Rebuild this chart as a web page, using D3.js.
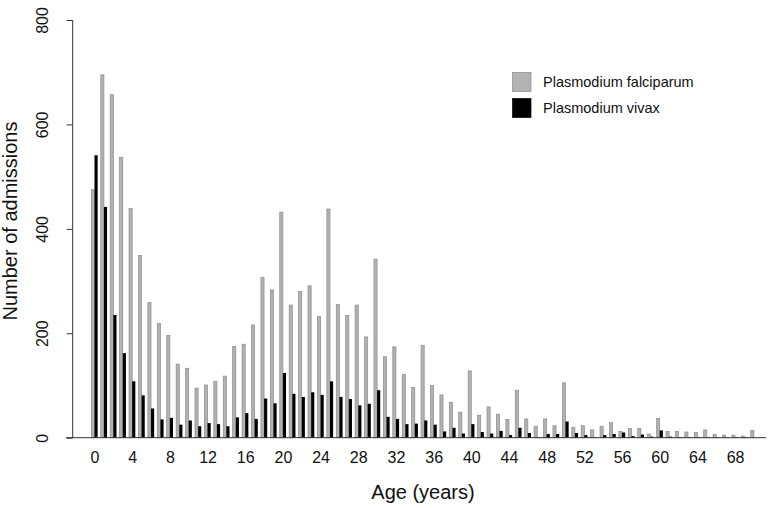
<!DOCTYPE html>
<html>
<head>
<meta charset="utf-8">
<script src="https://cdn.jsdelivr.net/npm/d3@7"></script>
<style>
  html, body { margin: 0; padding: 0; background: #fff; }
  svg { display: block; font-family: "Liberation Sans", Arial, sans-serif; }
</style>
</head>
<body>
<svg id="chart" width="778" height="508"></svg>
<script>
const ages = d3.range(0, 71);
const falciparum = [475, 695, 657, 537, 439, 349, 259, 219, 196, 141,
  133, 95, 101, 108, 118, 175, 179, 216, 307, 283,
  432, 254, 280, 291, 232, 438, 255, 234, 254, 193,
  342, 155, 174, 121, 96, 177, 100, 82, 68, 49,
  128, 43, 59, 45, 35, 91, 36, 22, 36, 23,
  105, 20, 23, 15, 22, 29, 12, 18, 18, 7,
  37, 12, 12, 11, 10, 15, 6, 5, 5, 3, 14];
const vivax = [541, 442, 235, 162, 108, 81, 56, 35, 38, 25,
  33, 22, 28, 26, 22, 39, 47, 36, 75, 66,
  124, 84, 78, 87, 82, 108, 78, 74, 62, 65,
  91, 40, 36, 26, 27, 33, 25, 12, 19, 8,
  26, 11, 8, 13, 5, 19, 9, 1, 7, 7,
  31, 9, 5, 1, 5, 7, 10, 3, 6, 2,
  14, 2, 1, 1, 1, 1, 1, 1, 1, 1, 0];
const xTickLabels = d3.range(0, 69, 4);
const yTickLabels = [0, 200, 400, 600, 800];
const seriesNames = ["Plasmodium falciparum", "Plasmodium vivax"];

const svg = d3.select("#chart");
const greyFill = "#b2b2b2", greyStroke = "#8c8c8c";

const x = d3.scaleLinear().domain([0, 70]).range([94.5, 94.5 + 9.42 * 70]);
const y = d3.scaleLinear().domain([0, 800]).range([437.7, 20]);
const bw = (x(1) - x(0)) / 3;

// bars
svg.append("g").selectAll("rect").data(ages).join("rect")
  .attr("x", d => x(d) - bw)
  .attr("width", bw)
  .attr("y", d => y(falciparum[d]))
  .attr("height", d => y(0) - y(falciparum[d]))
  .attr("fill", greyFill)
  .attr("stroke", greyStroke)
  .attr("stroke-width", 0.7);

svg.append("g").selectAll("rect").data(ages).join("rect")
  .attr("x", d => x(d))
  .attr("width", bw)
  .attr("y", d => y(vivax[d]))
  .attr("height", d => y(0) - y(vivax[d]))
  .attr("fill", "#000");

// baseline
svg.append("line")
  .attr("x1", 66).attr("x2", 766)
  .attr("y1", y(0)).attr("y2", y(0))
  .attr("stroke", "#333").attr("stroke-width", 1);

// x axis labels
const gx = svg.append("g").attr("transform", `translate(0,${y(0)})`)
  .call(d3.axisBottom(x).tickValues(xTickLabels).tickSize(0).tickPadding(9).tickFormat(d3.format("d")));
gx.select(".domain").remove();
gx.selectAll("text").attr("font-size", 16).attr("fill", "#111").attr("font-family", "Liberation Sans, Arial, sans-serif")
  .attr("dy", null).attr("y", 25);

// y axis
const gy = svg.append("g").attr("transform", "translate(72.7,0)")
  .call(d3.axisLeft(y).tickValues(yTickLabels).tickSize(6).tickFormat(d3.format("d")));
gy.select(".domain").attr("d", `M0,${y(800)}V${y(0)}`).attr("stroke", "#333");
gy.selectAll(".tick line").attr("stroke", "#333");
gy.selectAll("text")
  .attr("x", null).attr("dy", null).attr("y", null)
  .attr("transform", "translate(-24.7,0) rotate(-90)")
  .attr("text-anchor", "middle")
  .attr("font-size", 16).attr("fill", "#111").attr("font-family", "Liberation Sans, Arial, sans-serif");

// axis titles
svg.append("text")
  .attr("transform", "translate(17,221) rotate(-90)")
  .attr("text-anchor", "middle")
  .attr("font-size", 20).attr("fill", "#111")
  .text("Number of admissions");
svg.append("text")
  .attr("x", 423).attr("y", 499)
  .attr("text-anchor", "middle")
  .attr("font-size", 20).attr("fill", "#111")
  .text("Age (years)");

// legend
const legend = svg.append("g");
const legendItems = [{name: seriesNames[0], fill: greyFill, stroke: greyStroke},
                     {name: seriesNames[1], fill: "#000", stroke: "#000"}];
legendItems.forEach((it, i) => {
  const cy = 82 + i * 26;
  legend.append("rect").attr("x", 512.5).attr("y", cy - 9.5).attr("width", 18.5).attr("height", 19)
    .attr("fill", it.fill).attr("stroke", it.stroke).attr("stroke-width", 0.7);
  legend.append("text").attr("x", 543).attr("y", cy + 5)
    .attr("font-size", 14.5).attr("fill", "#111").text(it.name);
});
</script>
</body>
</html>
